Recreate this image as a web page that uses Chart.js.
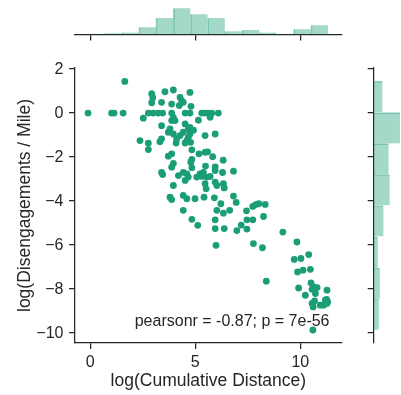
<!DOCTYPE html>
<html>
<head>
<meta charset="utf-8">
<script src="https://cdn.jsdelivr.net/npm/chart.js@4.4.1/dist/chart.umd.min.js"></script>
<style>
  html, body { margin: 0; padding: 0; background: #fff; }
  #wrap { position: relative; width: 401px; height: 395px; }
  #wrap canvas { position: absolute; left: 0; top: 0; }
</style>
</head>
<body>
<div id="wrap">
  <canvas id="main" width="401" height="395"></canvas>
  <canvas id="top" width="401" height="395"></canvas>
  <canvas id="right" width="401" height="395"></canvas>
</div>
<script>
// jointplot: log distance vs log disengagements per mile
const xTicks = [0, 5, 10]
const yTicks = [-10, -8, -6, -4, -2, 0, 2]
const xLabel = 'log(Cumulative Distance)'
const yLabel = 'log(Disengagements / Mile)'
const statText = 'pearsonr = -0.87; p = 7e-56'

const logDistance = [
  -0.10, 1.02, 1.14, 1.57, 1.65, 2.53, 2.37, 2.77, 2.77, 2.77,
  2.93, 2.98, 2.93, 3.00, 3.24, 3.45, 3.56, 3.96, 4.75, 3.40,
  3.88, 4.28, 4.36, 4.24, 4.43, 4.80, 3.88, 3.96, 3.88, 4.04,
  4.52, 4.75, 5.31, 5.47, 5.63, 5.79, 6.10, 5.71, 5.15, 3.40,
  4.52, 4.75, 4.67, 4.92, 3.80, 3.72, 3.96, 4.28, 4.43, 4.75,
  4.67, 5.47, 5.95, 3.32, 3.40, 4.12, 4.09, 4.60, 4.52, 4.78,
  4.84, 5.18, 5.47, 5.59, 5.83, 3.88, 3.72, 4.84, 4.79, 6.33,
  3.96, 3.88, 4.84, 5.49, 5.95, 5.95, 3.40, 3.45, 4.20, 4.43,
  4.60, 4.67, 4.52, 5.07, 5.23, 5.39, 5.31, 5.55, 5.71, 6.30,
  6.82, 5.47, 5.52, 5.95, 6.03, 6.34, 6.38, 3.96, 3.80, 3.88,
  4.43, 4.60, 4.99, 5.42, 5.91, 6.82, 6.95, 6.22, 4.43, 6.03,
  6.34, 6.64, 7.44, 4.84, 5.12, 5.95, 7.46, 5.95, 6.38, 6.98,
  7.19, 7.46, 5.99, 7.74, 7.88, 8.02, 8.33, 8.25, 7.74, 9.17,
  7.77, 8.20, 9.84, 9.71, 10.03, 10.40, 9.87, 10.13, 10.48, 8.38,
  9.92, 10.51, 10.63, 10.56, 10.80, 10.72, 10.24, 11.27, 10.56, 10.61,
  10.95, 11.11, 11.19, 11.25, 11.27, 11.30, 10.60, 10.68
]
const logDisPerMile = [
  0, 0, 0, 0, 1.44, -0.23, -1.25, -1.37, -1.66, 0,
  0.88, 0.70, 0.47, 0, 0, 0, 0.97, 1.05, 0.94, 0.49,
  0.41, 0.71, 0.56, 0.34, 0.49, 0.31, 0, -0.19, -0.34, -0.34,
  0, 0, 0, 0, 0, 0, 0, -0.19, -0.32, -0.57,
  -0.49, -0.65, -0.72, -0.78, -0.72, -0.87, -0.95, -1.02, -0.87, -0.95,
  -1.10, -1.02, -0.95, -1.30, -1.17, -1.17, -1.36, -1.25, -1.36, -1.33,
  -1.67, -1.85, -1.78, -1.76, -1.98, -1.85, -1.96, -2.10, -2.23, -2.14,
  -2.29, -2.46, -2.48, -2.41, -2.44, -2.61, -2.70, -2.79, -2.84, -2.69,
  -2.76, -2.91, -3.06, -2.91, -2.76, -2.69, -2.88, -2.91, -2.88, -2.70,
  -2.64, -3.21, -3.44, -3.14, -3.29, -3.21, -3.40, -3.29, -3.82, -3.93,
  -3.74, -3.89, -3.89, -3.82, -3.85, -3.77, -4.06, -4.12, -4.42, -4.42,
  -4.55, -4.42, -4.44, -4.83, -5.10, -4.85, -4.85, -5.25, -5.25, -5.34,
  -5.09, -5.27, -6.01, -4.24, -4.16, -4.12, -4.15, -4.70, -4.85, -5.41,
  -5.93, -6.12, -5.86, -6.65, -6.61, -6.43, -7.22, -7.14, -7.10, -7.64,
  -7.95, -7.72, -7.90, -8.01, -7.93, -8.20, -8.28, -8.05, -8.65, -8.81,
  -8.73, -8.73, -8.50, -8.47, -8.65, -8.58, -9.86, -8.54
]

// marginal histograms (bin edges + counts)
const xBinEdges = [-0.14, 0.68, 1.50, 2.32, 3.13, 3.95, 4.77, 5.59, 6.41, 7.23, 8.05, 8.86, 9.68, 10.50, 11.32]
const xBinCounts = [1, 2, 3, 11, 25, 40, 31, 25, 5, 7, 3, 1, 8, 14]
const yBinEdges = [-9.86, -8.44, -7.04, -5.61, -4.19, -2.79, -1.39, 0.03, 1.48]
const yBinCounts = [10, 12, 8, 19, 31, 29, 51, 17]

const green = '#1b9e77'
const histFill = 'rgba(27,158,119,0.4)'
const histEdge = 'rgba(27,158,119,0.45)'
const ink = '#262626'
const fontFam = '"Liberation Sans", Arial, sans-serif'

// figure layout (px)
const W = 401, H = 395
const plotL = 75, plotR = 341.7, plotT = 68, plotB = 343
const xMin = -0.72, xMax = 11.97
const yMin = -10.45, yMax = 2.05

const fixTicks = vals => scale => { scale.ticks = vals.map(v => ({value: v})) }
const minus = v => v < 0 ? '\u2212' + Math.abs(v) : String(v)

const spine = {display: true, color: ink, width: 1.25}
const tickGrid = {drawOnChartArea: false, drawTicks: true, tickLength: 6, color: ink, lineWidth: 1.25}

const statPlugin = {
  id: 'stat',
  afterDraw(chart) {
    const ctx = chart.ctx
    ctx.save()
    ctx.font = '16px ' + fontFam
    ctx.fillStyle = ink
    ctx.textAlign = 'right'
    ctx.textBaseline = 'middle'
    ctx.fillText(statText, 329.5, 321.5)
    ctx.restore()
  }
}

const points = logDistance.map((x, i) => ({x: x, y: logDisPerMile[i]}))

new Chart(document.getElementById('main'), {
  type: 'scatter',
  data: {datasets: [{data: points, backgroundColor: green, borderWidth: 0, pointRadius: 3.4}]},
  options: {
    responsive: false, animation: false,
    layout: {padding: {left: 0, top: plotT, right: W - plotR, bottom: 0}},
    plugins: {legend: {display: false}, tooltip: {enabled: false}},
    scales: {
      x: {
        type: 'linear', min: xMin, max: xMax,
        afterBuildTicks: fixTicks(xTicks),
        afterFit: s => { s.height = H - plotB },
        border: spine, grid: tickGrid,
        ticks: {color: ink, font: {size: 16, family: fontFam}, padding: 4, maxRotation: 0},
        title: {display: true, text: xLabel, color: ink, font: {size: 17.5, family: fontFam}, padding: {top: 0, bottom: 3}}
      },
      y: {
        type: 'linear', min: yMin, max: yMax,
        afterBuildTicks: fixTicks(yTicks),
        afterFit: s => { s.width = plotL },
        border: spine, grid: tickGrid,
        ticks: {color: ink, font: {size: 16, family: fontFam}, padding: 5.5, callback: minus},
        title: {display: true, text: yLabel, color: ink, font: {size: 17.5, family: fontFam}, padding: {top: 15, bottom: 0}}
      }
    }
  },
  plugins: [statPlugin]
})

const mid = (edges, i) => (edges[i] + edges[i + 1]) / 2

new Chart(document.getElementById('top'), {
  type: 'bar',
  data: {datasets: [{
    data: xBinCounts.map((c, i) => ({x: mid(xBinEdges, i), y: c})),
    backgroundColor: histFill, borderColor: histEdge,
    borderWidth: {left: 1, right: 0, top: 0, bottom: 0}, borderSkipped: false,
    barPercentage: 1, categoryPercentage: 1
  }]},
  options: {
    responsive: false, animation: false,
    layout: {padding: {left: plotL, top: 6.9, right: W - plotR, bottom: H - 34.5}},
    plugins: {legend: {display: false}, tooltip: {enabled: false}},
    scales: {
      x: {
        type: 'linear', min: xMin, max: xMax, offset: false,
        afterBuildTicks: fixTicks(xTicks),
        afterFit: s => { s.height = 0 },
        border: spine, grid: Object.assign({offset: false}, tickGrid),
        ticks: {display: false}
      },
      y: {display: false, min: 0, max: 42}
    }
  }
})

new Chart(document.getElementById('right'), {
  type: 'bar',
  data: {datasets: [{
    data: yBinCounts.map((c, i) => ({y: mid(yBinEdges, i), x: c})),
    backgroundColor: histFill, borderColor: histEdge,
    borderWidth: {left: 0, right: 0, top: 1, bottom: 0}, borderSkipped: false,
    barPercentage: 1, categoryPercentage: 1
  }]},
  options: {
    indexAxis: 'y',
    responsive: false, animation: false,
    layout: {padding: {left: 373.7, top: plotT, right: 0, bottom: H - plotB}},
    plugins: {legend: {display: false}, tooltip: {enabled: false}},
    scales: {
      y: {
        type: 'linear', min: yMin, max: yMax, offset: false,
        afterBuildTicks: fixTicks(yTicks),
        afterFit: s => { s.width = 0 },
        border: spine, grid: Object.assign({offset: false}, tickGrid),
        ticks: {display: false}
      },
      x: {display: false, min: 0, max: 53}
    }
  }
})
</script>
</body>
</html>
